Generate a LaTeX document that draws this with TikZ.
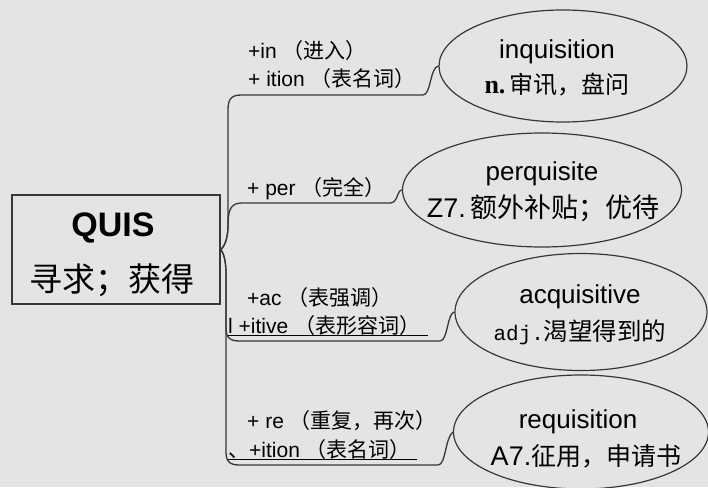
\documentclass[tikz,border=0pt]{standalone}
\usepackage{fontspec}
\setmainfont{Liberation Sans}
\newfontfamily\cjk{Noto Sans CJK SC}
\newfontfamily\serifbf{Liberation Serif}
\newfontfamily\monof{Liberation Mono}
\usetikzlibrary{shapes.geometric}
\newcommand\zh[1]{{\cjk #1}}
\definecolor{bg}{RGB}{228,228,228}
\definecolor{ink}{RGB}{55,55,55}
\begin{document}
\begin{tikzpicture}[x=1pt,y=-1pt,
  conn/.style={draw=ink, line width=1.3pt},
  oval/.style={ellipse, draw=ink, line width=1.2pt, fill=bg, inner sep=0pt},
  word/.style={inner sep=0pt, anchor=base, font=\fontsize{26}{30}\selectfont},
  gloss/.style={inner sep=0pt, anchor=base},
  lab/.style={inner sep=0pt, anchor=base west, font=\fontsize{21}{24}\selectfont},
  uline/.style={draw=black, line width=0.9pt}]
\useasboundingbox (0,0) rectangle (708,487);
\fill[bg] (0,0) rectangle (708,487);

% root
\node[draw=ink, line width=1.5pt, fill=bg, minimum width=208pt, minimum height=109pt, inner sep=0pt] (root) at (116,249.5) {};
\node[inner sep=0pt, font=\bfseries\fontsize{34}{36}\selectfont] (quis) at (113,228) {QUIS};
\node[inner sep=0pt, font=\fontsize{33}{36}\selectfont] (xq) at (112,280) {\zh{寻求；获得}};

% ellipses
\node[oval, minimum width=248pt, minimum height=112pt] (e1) at (563,66) {};
\node[oval, minimum width=279pt, minimum height=114pt] (e2) at (542,190) {};
\node[oval, minimum width=252pt, minimum height=117pt] (e3) at (581,312) {};
\node[oval, minimum width=255pt, minimum height=114pt] (e4) at (581,432) {};

\node[word] (w1) at (557,58) {inquisition};
\node[gloss, font=\fontsize{24}{28}\selectfont] (g1) at (557,93) {{\serifbf\bfseries\fontsize{26}{28}\selectfont n.}\,\zh{审讯，盘问}};
\node[word] (w2) at (542,180) {perquisite};
\node[gloss, font=\fontsize{27}{30}\selectfont] (g2) at (543,217) {Z7.\,\zh{额外补贴；优待}};
\node[word] (w3) at (580,303) {acquisitive};
\node[gloss, font=\fontsize{24.5}{28}\selectfont] (g3) at (580,340) {{\monof\fontsize{21}{24}\selectfont adj.}\zh{渴望得到的}};
\node[word] (w4) at (578,428) {requisition};
\node[gloss, font=\fontsize{25}{28}\selectfont] (g4) at (586,465) {{\fontsize{27}{28}\selectfont A7.}\zh{征用，申请书}};

% branch labels
\node[lab] (l1a) at (248,59) {+in \zh{（进入）}};
\node[lab] (l1b) at (248,86) {+ ition \zh{（表名词）}};
\node[lab] (l2) at (247,195) {+ per \zh{（完全）}};
\node[lab] (l3a) at (247,305) {+ac \zh{（表强调）}};
\node[lab] (l3b) at (228,333) {l +itive \zh{（表形容词）}};
\node[lab] (l4a) at (247,428) {+ re \zh{（重复，再次）}};
\node[lab] (l4b) at (228,457) {\zh{、}+ition \zh{（表名词）}};
\draw[uline] ([yshift=-2pt]l3b.base west) -- ++(200,0);
\draw[uline] ([yshift=-2pt]l4b.base west) -- ++(189,0);

% connectors
\draw[conn] (root.east) .. controls (226,245) and (228,235) .. (228,225) -- (228,110)
  .. controls (228,98) and (232,95) .. (242,95) -- (423,95)
  .. controls (431,95) and (430,67) .. (e1.west);
\draw[conn] (root.east) .. controls (226,245) and (228,235) .. (228,225)
  .. controls (228,208) and (232,203) .. (242,203) -- (390,203)
  .. controls (398,203) and (397,190) .. (e2.west);
\draw[conn] (root.east) .. controls (225,255) and (226,265) .. (226,275) -- (226,328)
  .. controls (226,338) and (230,341) .. (240,341) -- (440,341)
  .. controls (448,341) and (447,313) .. (e3.west);
\draw[conn] (root.east) .. controls (225,255) and (226,265) .. (226,275) -- (226,452)
  .. controls (226,462) and (230,465) .. (240,465) -- (438,465)
  .. controls (446,465) and (445,438) .. (e4.west);
\end{tikzpicture}
\end{document}
